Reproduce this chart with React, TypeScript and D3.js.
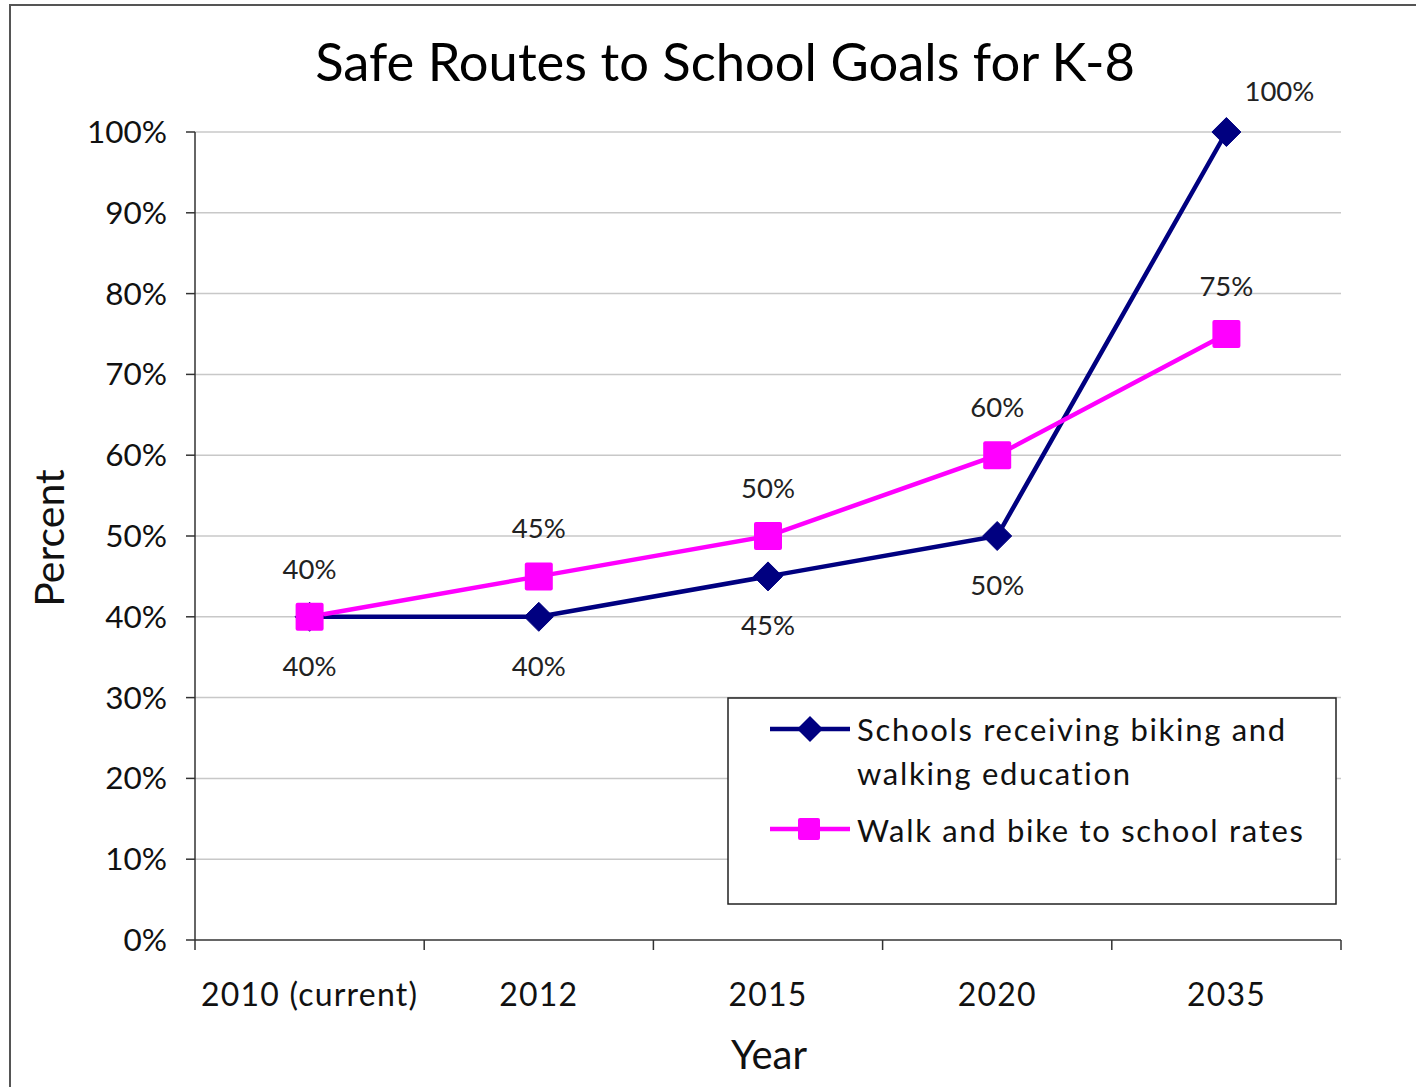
import React from "react";
import * as d3 from "d3";

const categories = ["2010 (current)", "2012", "2015", "2020", "2035"];
const schoolsEducation = [40, 40, 45, 50, 100];
const walkBikeRates = [40, 45, 50, 60, 75];
const yTicks = [0, 10, 20, 30, 40, 50, 60, 70, 80, 90, 100];
const seriesNames = ["Schools receiving biking and", "walking education", "Walk and bike to school rates"];

const W = 1416;
const H = 1087;
const FONT = "Lato, 'Open Sans', sans-serif";
const NAVY = "#000080";
const PINK = "#FF00FF";

export default function App() {
  const left = 195, right = 1341, top = 132, bottom = 940;
  const x = d3.scaleBand<string>().domain(categories).range([left, right]);
  const y = d3.scaleLinear().domain([0, 100]).range([bottom, top]);
  const cx = (c: string) => (x(c) as number) + x.bandwidth() / 2;
  const line = d3.line<number>().x((_, i) => cx(categories[i])).y((v) => y(v));
  const boundaries = [...categories.map((c) => x(c) as number), right];

  const diamond = (px: number, py: number, r: number) =>
    `M${px},${py - r}L${px + r},${py}L${px},${py + r}L${px - r},${py}Z`;

  return (
    <svg width={W} height={H} style={{ position: "absolute", left: 0, top: 0, background: "#fff" }} fontFamily={FONT}>
      <rect x={0} y={0} width={W} height={H} fill="#fff" />
      <rect x={10} y={5} width={W + 20} height={H + 20} fill="none" stroke="#555" strokeWidth={2} />
      <text x={725} y={81} textAnchor="middle" fontSize={52.5} fill="#000">Safe Routes to School Goals for K-8</text>

      {yTicks.map((t) => (
        <g key={t}>
          {t > 0 && <line x1={left} x2={right} y1={y(t)} y2={y(t)} stroke="#c8c8c8" strokeWidth={1.5} />}
          <line x1={186} x2={left} y1={y(t)} y2={y(t)} stroke="#333" strokeWidth={1.5} />
          <text x={167} y={y(t) + 11} textAnchor="end" fontSize={31.5} fill="#111">{t}%</text>
        </g>
      ))}
      <line x1={left} x2={left} y1={top} y2={bottom} stroke="#333" strokeWidth={1.5} />
      <line x1={left} x2={right} y1={bottom} y2={bottom} stroke="#333" strokeWidth={1.5} />
      {boundaries.map((b, i) => (
        <line key={i} x1={b} x2={b} y1={bottom} y2={950} stroke="#333" strokeWidth={1.5} />
      ))}
      {categories.map((c) => (
        <text key={c} x={cx(c)} y={1006} textAnchor="middle" fontSize={32} letterSpacing={1.2} fill="#111">{c}</text>
      ))}
      <text x={769} y={1069} textAnchor="middle" fontSize={40} fill="#111">Year</text>
      <text transform={`translate(64,538) rotate(-90)`} textAnchor="middle" fontSize={41} fill="#111">Percent</text>

      <path d={line(schoolsEducation) || ""} fill="none" stroke={NAVY} strokeWidth={4.5} />
      <path d={line(walkBikeRates) || ""} fill="none" stroke={PINK} strokeWidth={4.5} />

      {schoolsEducation.map((v, i) => (
        <path key={"d" + i} d={diamond(cx(categories[i]), y(v), 14.5)} fill={NAVY} strokeLinejoin="round" stroke={NAVY} strokeWidth={1} />
      ))}
      {walkBikeRates.map((v, i) => (
        <rect key={"s" + i} x={cx(categories[i]) - 14} y={y(v) - 14} width={28} height={28} rx={2} fill={PINK} />
      ))}

      {schoolsEducation.map((v, i) => {
        const last = i === schoolsEducation.length - 1;
        return (
          <text key={"bl" + i} x={cx(categories[i]) + (last ? 53 : 0)} y={y(v) + (last ? -31 : 59)} textAnchor="middle" fontSize={27.5} fill="#222">{v}%</text>
        );
      })}
      {walkBikeRates.map((v, i) => (
        <text key={"pl" + i} x={cx(categories[i])} y={y(v) - 38} textAnchor="middle" fontSize={27.5} fill="#222">{v}%</text>
      ))}

      <rect x={728} y={698} width={608} height={206} fill="#fff" stroke="#222" strokeWidth={1.5} />
      <line x1={770} x2={850} y1={729} y2={729} stroke={NAVY} strokeWidth={4.5} />
      <path d={diamond(810, 729, 13)} fill={NAVY} />
      <line x1={770} x2={850} y1={829} y2={829} stroke={PINK} strokeWidth={4.5} />
      <rect x={798} y={818} width={22} height={22} rx={2} fill={PINK} />
      <text x={857} y={741} fontSize={31} letterSpacing={1.7} fill="#111">{seriesNames[0]}</text>
      <text x={857} y={785} fontSize={31} letterSpacing={1.7} fill="#111">{seriesNames[1]}</text>
      <text x={857} y={842} fontSize={31} letterSpacing={1.7} fill="#111">{seriesNames[2]}</text>
    </svg>
  );
}
